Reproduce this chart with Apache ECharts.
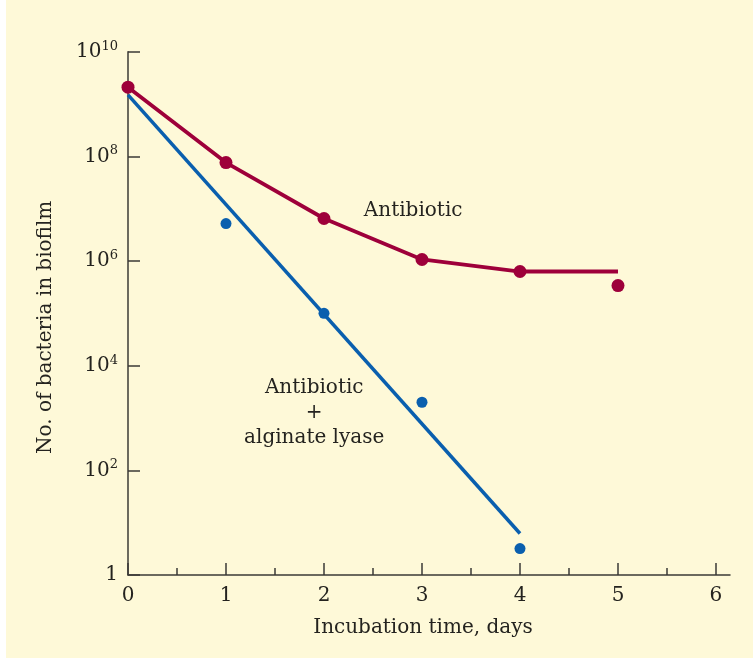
<!DOCTYPE html>
<html>
<head>
<meta charset="utf-8">
<script src="https://cdn.jsdelivr.net/npm/echarts@6/dist/echarts.min.js"></script>
<style>
  html, body { margin: 0; padding: 0; background: #ffffff; }
  #wrap { position: relative; width: 753px; height: 663px; }
  #panel { position: absolute; left: 6px; top: 0; right: 0; bottom: 5px; background: #fef9d8; }
  #chart { position: absolute; left: 0; top: 0; width: 753px; height: 663px; }
</style>
</head>
<body>
<div id="wrap"><div id="panel"></div><div id="chart"></div></div>
<script>
// Data
const days = [0, 1, 2, 3, 4, 5];
const antibioticPoints = [2.1e9, 7.6e7, 6.5e6, 1.07e6, 6.3e5, 3.4e5];
const antibioticLineX = [0, 1, 2, 3, 4, 5];
const antibioticLineY = [2.1e9, 7.6e7, 6.5e6, 1.07e6, 6.3e5, 6.3e5];
const lyaseDays = [0, 1, 2, 3, 4];
const lyasePoints = [2.1e9, 5.2e6, 1.0e5, 2.0e3, 3.2];
const lyaseFitX = [0, 4];
const lyaseFitY = [1.5e9, 6.2];
const xMajorTicks = [0, 1, 2, 3, 4, 5, 6];
const xMinorTicks = [0.5, 1.5, 2.5, 3.5, 4.5, 5.5];
const labelAntibiotic = { x: 2.91, y: 9.0e6, text: 'Antibiotic' };
const labelLyase = { x: 1.9, y: 1.25e3, text: 'Antibiotic\n+\nalginate lyase' };

const RED = '#9e003a';
const BLUE = '#0a5fae';
const AXIS = '#3b3a36';
const TEXT = '#24231f';
const FONT = 'DejaVu Serif';
const FS = 20;

const zip = (xs, ys) => xs.map((x, i) => [x, ys[i]]);

const chart = echarts.init(document.getElementById('chart'), null, { renderer: 'canvas' });

const supFormatter = v => {
  const e = Math.round(Math.log10(v));
  if (e === 0) return '{b|1}';
  return '{b|10}{s|' + e + '}';
};

chart.setOption({
  backgroundColor: 'transparent',
  animation: false,
  grid: { left: 128, top: 51.7, right: 23, bottom: 88, containLabel: false },
  xAxis: [
    {
      type: 'value', min: 0, max: 6.143,
      splitLine: { show: false },
      axisLine: { show: true, lineStyle: { color: AXIS, width: 1.5 } },
      axisTick: { show: true, inside: true, length: 12, customValues: xMajorTicks, lineStyle: { color: AXIS, width: 1.5 } },
      axisLabel: { customValues: xMajorTicks, margin: 11, color: TEXT, fontFamily: FONT, fontSize: FS },
      name: 'Incubation time, days', nameLocation: 'middle', nameGap: 43,
      nameTextStyle: { color: TEXT, fontFamily: FONT, fontSize: FS, padding: [0, 12, 0, 0] }
    },
    {
      type: 'value', min: 0, max: 6.143, position: 'bottom',
      splitLine: { show: false },
      axisLine: { show: false },
      axisTick: { show: true, inside: true, length: 7, customValues: xMinorTicks, lineStyle: { color: AXIS, width: 1.5 } },
      axisLabel: { show: false }
    }
  ],
  yAxis: [
    {
      type: 'log', logBase: 100, min: 1, max: 1e10,
      splitLine: { show: false },
      axisLine: { show: true, lineStyle: { color: AXIS, width: 1.5 } },
      axisTick: { show: true, inside: true, length: 12, lineStyle: { color: AXIS, width: 1.5 } },
      axisLabel: {
        margin: 10, color: TEXT, fontFamily: FONT,
        formatter: supFormatter,
        rich: {
          b: { fontSize: FS, lineHeight: 24, fontFamily: FONT, color: TEXT },
          s: { fontSize: 13, lineHeight: 13, verticalAlign: 'top', fontFamily: FONT, color: TEXT }
        }
      },
      name: 'No. of bacteria in biofilm', nameLocation: 'middle', nameGap: 72,
      nameTextStyle: { color: TEXT, fontFamily: FONT, fontSize: FS, padding: [0, 28, 0, 0] }
    },
    {
      type: 'log', logBase: 10, min: 1, max: 1e10, position: 'left',
      splitLine: { show: false },
      axisLine: { show: false },
      axisTick: { show: true, inside: true, length: 7, lineStyle: { color: AXIS, width: 1.5 } },
      axisLabel: { show: false }
    }
  ],
  series: [
    {
      type: 'line', name: 'Antibiotic + alginate lyase fit', data: zip(lyaseFitX, lyaseFitY),
      showSymbol: false, symbol: 'none', lineStyle: { color: BLUE, width: 3.5 }, z: 2
    },
    {
      type: 'scatter', name: 'Antibiotic + alginate lyase', data: zip(lyaseDays, lyasePoints),
      symbolSize: 11, itemStyle: { color: BLUE, opacity: 1 }, z: 3
    },
    {
      type: 'line', name: 'Antibiotic curve', data: zip(antibioticLineX, antibioticLineY),
      showSymbol: false, symbol: 'none', lineStyle: { color: RED, width: 3.8 }, z: 4
    },
    {
      type: 'scatter', name: 'Antibiotic', data: zip(days, antibioticPoints),
      symbolSize: 13, itemStyle: { color: RED, opacity: 1 }, z: 5
    },
    {
      type: 'scatter', name: 'labels', symbolSize: 0, silent: true, z: 6,
      itemStyle: { opacity: 1 },
      data: [
        { value: [labelAntibiotic.x, labelAntibiotic.y], label: { formatter: labelAntibiotic.text } },
        { value: [labelLyase.x, labelLyase.y], label: { formatter: labelLyase.text } }
      ],
      label: {
        show: true, position: 'inside', color: TEXT, fontFamily: FONT, fontSize: FS,
        lineHeight: 25, align: 'center', verticalAlign: 'middle', opacity: 1
      }
    }
  ]
});
</script>
</body>
</html>
